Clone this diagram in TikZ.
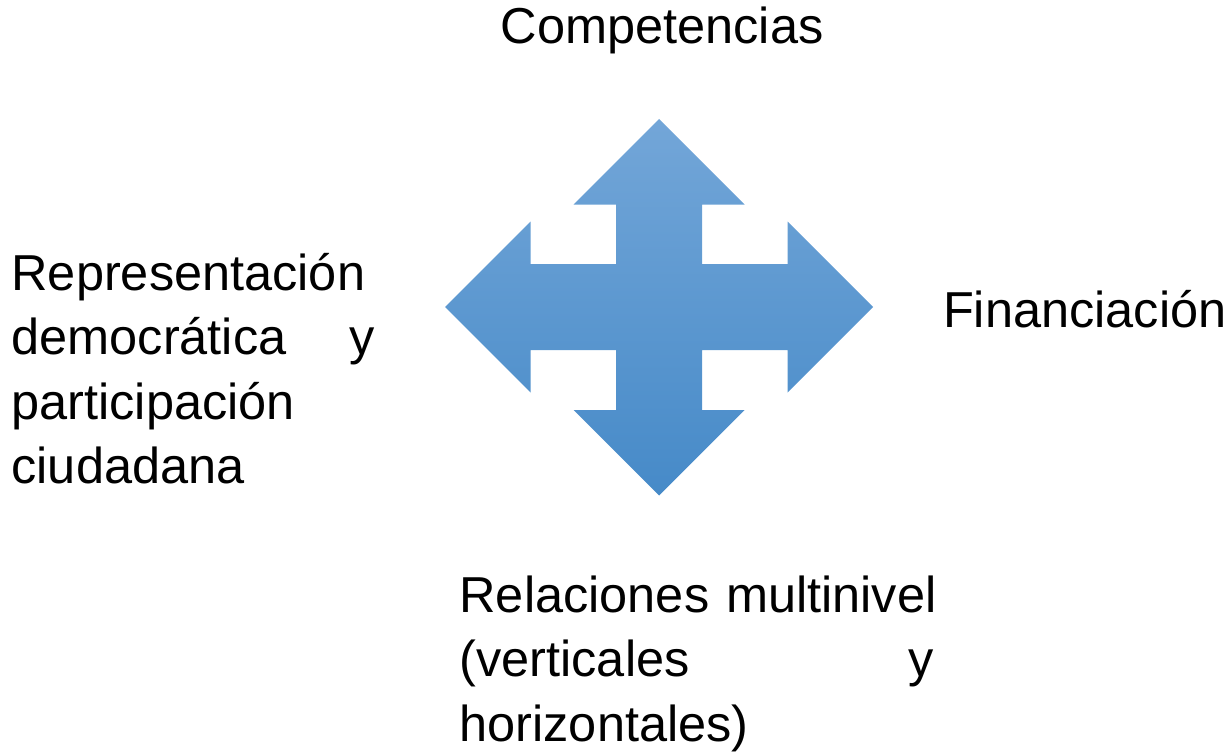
\documentclass[tikz,border=0pt]{standalone}
\usepackage{fontspec}
\setmainfont{Liberation Sans}
\definecolor{arrowtop}{RGB}{115,166,216}
\definecolor{arrowmid}{RGB}{88,156,219}
\definecolor{arrowbot}{RGB}{70,138,200}
\begin{document}
\begin{tikzpicture}[x=1pt, y=-1pt,
    txt/.style={font=\fontsize{50.5}{64.5}\selectfont, inner sep=0pt, outer sep=0pt}]
    \useasboundingbox (0,0) rectangle (1225,754);

    % Draw the four-way arrow
    \begin{scope}[shift={(659,307)}]
        \shade[top color=arrowtop, middle color=arrowmid, bottom color=arrowbot]
            (0,-188) -- (85.5,-102.5) -- (43,-102.5) -- (43,-43)
            -- (128.5,-43) -- (128.5,-85.5) -- (214,0) -- (128.5,85.5)
            -- (128.5,43) -- (43,43) -- (43,103) -- (85.5,103)
            -- (0,188.5) -- (-85.5,103) -- (-43,103) -- (-43,43)
            -- (-128.5,43) -- (-128.5,85.5) -- (-214,0) -- (-128.5,-85.5)
            -- (-128.5,-43) -- (-43,-43) -- (-43,-102.5) -- (-85.5,-102.5)
            -- cycle;
    \end{scope}

    % Draw the labels round the arrow
    \node[txt, anchor=base] (comp) at (662,44) {Competencias};
    \node[txt, anchor=base west] (fin) at (943,327) {Financiación};
    \node[txt, anchor=base west, text width=363pt, align=left] (repr) at (11.5,290)
        {Representación\\democrática\hfill y\\participación\\ciudadana};
    \node[txt, anchor=base west, text width=474pt, align=left] (rel) at (459.5,612)
        {\mbox{Relaciones multinivel}\\(verticales\hfill y\\horizontales)};

\end{tikzpicture}
\end{document}
